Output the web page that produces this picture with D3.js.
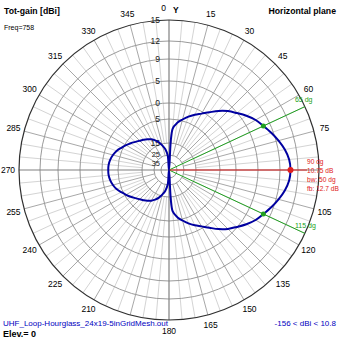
<!DOCTYPE html>
<html>
<head>
<meta charset="utf-8">
<script src="https://cdn.jsdelivr.net/npm/d3@7"></script>
<style>
  html, body { margin: 0; padding: 0; background: #fff; }
  svg { display: block; font-family: "Liberation Sans", Arial, sans-serif; }
</style>
</head>
<body>
<svg id="chart" width="339" height="339"></svg>
<script>
// Horizontal-plane total gain pattern (dBi), azimuth in degrees, 5 degree steps
const azimuth = [
    0,   5,  10,  15,  20,  25,  30,  35,  40,  45,  50,  55,
   60,  65,  70,  75,  80,  85,  90,  95, 100, 105, 110, 115,
  120, 125, 130, 135, 140, 145, 150, 155, 160, 165, 170, 175,
  180, 185, 190, 195, 200, 205, 210, 215, 220, 225, 230, 235,
  240, 245, 250, 255, 260, 265, 270, 275, 280, 285, 290, 295,
  300, 305, 310, 315, 320, 325, 330, 335, 340, 345, 350, 355
];
const gain = [
  -156, -9.0, -6.3, -4.6, -3.2, -1.9, -0.6,  0.8,  2.3,  3.7,  4.9,  6.0,
   7.0, 7.75,  8.6,  9.4, 10.1, 10.6, 10.75, 10.6, 10.1, 9.4,  8.6, 7.75,
   7.0,  6.0,  4.9,  3.7,  2.3,  0.8, -0.6, -1.9, -3.2, -4.6, -6.3, -9.0,
  -156, -26, -20, -16.5, -14.0, -12.6, -11.5, -10.6, -9.8, -9.0, -8.0, -6.8,
  -5.6, -4.5, -3.5, -2.8, -2.3, -2.0, -1.95, -2.0, -2.3, -2.8, -3.5, -4.5,
  -5.6, -6.8, -8.0, -9.0, -9.8, -10.6, -11.5, -12.6, -14.0, -16.5, -20, -26
];

// Gain rings (dBi) and the text printed beside each ring
const ringDb = [15, 12, 9, 5, 0, -5, -15, -25, -35];
const ringText = ["15", "12", "9", "5", "0", "5", "15", "25", "35"];

// Azimuth tick labels around the rim
const azTicks = [15, 30, 45, 60, 75, 105, 120, 135, 150, 165, 180,
                 210, 225, 240, 255, 270, 285, 300, 315, 330, 345];

// Main beam marker and -3 dB beamwidth edges
const peakAz = 90, peakGain = 10.75;
const bwEdges = [65, 115];
const bwGain = 7.75;
const peakNotes = ["90 dg", "10.75 dB", "bw: 50 dg", "fb: 12.7 dB"];

const svg = d3.select("#chart");
const cx = 169, cy = 170, R = 150;

// Compressed (log-like) radial gain scale
const rScale = d3.scaleLinear()
  .domain([-35, -25, -15, -5, 0, 5, 9, 12, 15])
  .range([8, 15, 27, 51, 67, 89, 111, 129, 150]);
const rad = d => Math.max(0, rScale(d));
const toRad = a => a * Math.PI / 180;
const px = (a, r) => cx + r * Math.sin(toRad(a));
const py = (a, r) => cy - r * Math.cos(toRad(a));

const g = svg.append("g");

// minor radial spokes every 5 degrees
const spokes = d3.range(0, 360, 5).filter(a => a % 90 !== 0);
g.selectAll("line.minor")
  .data(spokes.filter(a => a % 15 !== 0))
  .join("line")
  .attr("x1", a => px(a, rScale(-15))).attr("y1", a => py(a, rScale(-15)))
  .attr("x2", a => px(a, R)).attr("y2", a => py(a, R))
  .attr("stroke", "#d4d4d4").attr("stroke-width", 1);

// major radial spokes every 15 degrees
g.selectAll("line.major")
  .data(spokes.filter(a => a % 15 === 0))
  .join("line")
  .attr("x1", a => px(a, rScale(-25))).attr("y1", a => py(a, rScale(-25)))
  .attr("x2", a => px(a, R)).attr("y2", a => py(a, R))
  .attr("stroke", "#a8a8a8").attr("stroke-width", 1);

// gain rings
g.selectAll("circle.ring")
  .data(ringDb.slice(1))
  .join("circle")
  .attr("cx", cx).attr("cy", cy)
  .attr("r", d => rScale(d))
  .attr("fill", "none").attr("stroke", "#9a9a9a").attr("stroke-width", 1);

// axes through the centre
g.append("line").attr("x1", cx - R).attr("x2", cx + R).attr("y1", cy).attr("y2", cy)
  .attr("stroke", "#808080").attr("stroke-width", 1.2);
g.append("line").attr("x1", cx).attr("x2", cx).attr("y1", cy - R).attr("y2", cy + R)
  .attr("stroke", "#808080").attr("stroke-width", 1.2);

// outer rim
g.append("circle").attr("cx", cx).attr("cy", cy).attr("r", rScale(15))
  .attr("fill", "none").attr("stroke", "#303030").attr("stroke-width", 1.2);

// ring labels (the two innermost are nudged apart)
const ringNudge = [0, 0, 0, 0, 0, 0, 0, -1, 1];
g.selectAll("text.ring")
  .data(ringDb)
  .join("text")
  .attr("x", cx - 9).attr("y", (d, i) => cy - rScale(d) + ringNudge[i])
  .attr("dy", "0.35em")
  .attr("text-anchor", "end")
  .attr("font-size", (d, i) => i > 6 ? 7.5 : 8.5).attr("fill", "#202020")
  .text((d, i) => ringText[i]);

// azimuth labels
g.selectAll("text.az")
  .data(azTicks)
  .join("text")
  .attr("x", a => px(a, R + 11)).attr("y", a => py(a, R + 11))
  .attr("dy", "0.35em")
  .attr("text-anchor", "middle")
  .attr("font-size", 8.5).attr("fill", "#000")
  .text(a => a);
g.append("text").attr("x", cx - 3).attr("y", cy - R - 9).attr("text-anchor", "end")
  .attr("font-size", 8.5).text("0");
g.append("text").attr("x", cx + 4).attr("y", cy - R - 7).attr("text-anchor", "start")
  .attr("font-size", 8.5).attr("font-weight", "bold").text("Y");

// beamwidth lines
g.selectAll("line.bw")
  .data(bwEdges)
  .join("line")
  .attr("x1", cx).attr("y1", cy)
  .attr("x2", a => px(a, R)).attr("y2", a => py(a, R))
  .attr("stroke", "#20a020").attr("stroke-width", 1);
g.selectAll("text.bw")
  .data(bwEdges)
  .join("text")
  .attr("x", a => px(a, R) - 10).attr("y", a => py(a, R) + (a < 90 ? -5 : -5))
  .attr("font-size", 7).attr("fill", "#20a020")
  .text(a => a + " dg");

// peak direction line
g.append("line").attr("x1", cx).attr("y1", cy)
  .attr("x2", px(peakAz, R - 12)).attr("y2", py(peakAz, R - 12))
  .attr("stroke", "#e02020").attr("stroke-width", 1);

// pattern trace
const pts = azimuth.map((a, i) => [toRad(a), rad(gain[i])]);
const line = d3.lineRadial().curve(d3.curveCatmullRomClosed.alpha(0.5));
g.append("path")
  .attr("transform", `translate(${cx},${cy})`)
  .attr("d", line(pts))
  .attr("fill", "none").attr("stroke", "#0000a0").attr("stroke-width", 2);

// markers
g.selectAll("circle.bwdot")
  .data(bwEdges)
  .join("circle")
  .attr("cx", a => px(a, rad(bwGain))).attr("cy", a => py(a, rad(bwGain)))
  .attr("r", 2.5).attr("fill", "#20a020");
g.append("circle").attr("cx", px(peakAz, rad(peakGain))).attr("cy", py(peakAz, rad(peakGain)))
  .attr("r", 3).attr("fill", "#e02020");

// peak annotations
g.selectAll("text.note")
  .data(peakNotes)
  .join("text")
  .attr("x", px(peakAz, R - 12)).attr("y", (d, i) => cy - 8 + i * 9)
  .attr("dy", "0.35em")
  .attr("font-size", 6.6).attr("fill", "#e02020")
  .text(d => d);

// headings and footer
svg.append("text").attr("x", 4).attr("y", 14).attr("font-size", 8.7).attr("font-weight", "bold")
  .text("Tot-gain [dBi]");
svg.append("text").attr("x", 4).attr("y", 30).attr("font-size", 7)
  .text("Freq=758");
svg.append("text").attr("x", 336).attr("y", 14).attr("text-anchor", "end")
  .attr("font-size", 8.7).attr("font-weight", "bold").text("Horizontal plane");
svg.append("text").attr("x", 3).attr("y", 325.5).attr("font-size", 8).attr("fill", "#0000c0")
  .text("UHF_Loop-Hourglass_24x19-5inGridMesh.out");
svg.append("text").attr("x", 3).attr("y", 337).attr("font-size", 9).attr("font-weight", "bold")
  .text("Elev.= 0");
svg.append("text").attr("x", 336).attr("y", 326).attr("text-anchor", "end")
  .attr("font-size", 8).attr("fill", "#0000c0").text("-156 < dBi < 10.8");
</script>
</body>
</html>
